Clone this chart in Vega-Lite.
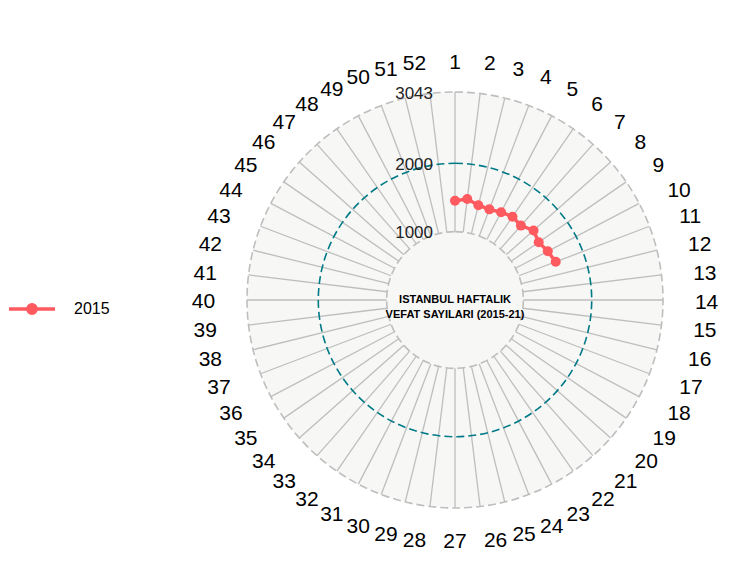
{
  "$schema": "https://vega.github.io/schema/vega-lite/v6.json",
  "width": 416,
  "height": 416,
  "autosize": "none",
  "padding": {"left": 247, "top": 92, "right": 93, "bottom": 80},
  "config": {
    "font": "Liberation Sans",
    "view": {"stroke": null},
    "axis": {"disable": true}
  },
  "datasets": {
    "deaths": [
      {"year": "2015", "week": 1, "deaths": 1453},
      {"year": "2015", "week": 2, "deaths": 1488},
      {"year": "2015", "week": 3, "deaths": 1429},
      {"year": "2015", "week": 4, "deaths": 1418},
      {"year": "2015", "week": 5, "deaths": 1451},
      {"year": "2015", "week": 6, "deaths": 1481},
      {"year": "2015", "week": 7, "deaths": 1454},
      {"year": "2015", "week": 8, "deaths": 1535},
      {"year": "2015", "week": 9, "deaths": 1488},
      {"year": "2015", "week": 10, "deaths": 1533},
      {"year": "2015", "week": 11, "deaths": 1576}
    ],
    "weeks": [
      {"week": 1}, {"week": 2}, {"week": 3}, {"week": 4}, {"week": 5}, {"week": 6}, {"week": 7},
      {"week": 8}, {"week": 9}, {"week": 10}, {"week": 11}, {"week": 12}, {"week": 13}, {"week": 14},
      {"week": 15}, {"week": 16}, {"week": 17}, {"week": 18}, {"week": 19}, {"week": 20}, {"week": 21},
      {"week": 22}, {"week": 23}, {"week": 24}, {"week": 25}, {"week": 26}, {"week": 27}, {"week": 28},
      {"week": 29}, {"week": 30}, {"week": 31}, {"week": 32}, {"week": 33}, {"week": 34}, {"week": 35},
      {"week": 36}, {"week": 37}, {"week": 38}, {"week": 39}, {"week": 40}, {"week": 41}, {"week": 42},
      {"week": 43}, {"week": 44}, {"week": 45}, {"week": 46}, {"week": 47}, {"week": 48}, {"week": 49},
      {"week": 50}, {"week": 51}, {"week": 52}
    ],
    "grid": [
      {"level": 1000, "label": "1000", "kind": "min"},
      {"level": 2000, "label": "2000", "kind": "mid"},
      {"level": 3043, "label": "3043", "kind": "max"}
    ]
  },
  "layer": [
    {
      "data": {"name": "grid"},
      "transform": [{"filter": "datum.kind == 'max'"}],
      "mark": {"type": "arc", "theta": 0, "theta2": 6.2832, "fill": "#D7D6D1", "fillOpacity": 0.2, "strokeWidth": 0},
      "encoding": {
        "radius": {"field": "level", "type": "quantitative", "stack": null, "scale": {"type": "linear", "domain": [0, 3043], "range": [0, 208], "zero": true}}
      }
    },
    {
      "data": {"name": "weeks"},
      "transform": [
        {"calculate": "(datum.week - 1) * 2 * PI / 52", "as": "ang"},
        {"calculate": "1000 * sin(datum.ang)", "as": "x0"},
        {"calculate": "1000 * cos(datum.ang)", "as": "y0"},
        {"calculate": "3043 * sin(datum.ang)", "as": "x1"},
        {"calculate": "3043 * cos(datum.ang)", "as": "y1"}
      ],
      "mark": {"type": "rule", "color": "#BEBEBE", "strokeWidth": 1.3},
      "encoding": {
        "x": {"field": "x0", "type": "quantitative", "scale": {"domain": [-3043, 3043], "nice": false, "zero": false}},
        "y": {"field": "y0", "type": "quantitative", "scale": {"domain": [-3043, 3043], "nice": false, "zero": false}},
        "x2": {"field": "x1"},
        "y2": {"field": "y1"}
      }
    },
    {
      "data": {"name": "grid"},
      "mark": {"type": "arc", "theta": 0, "theta2": 6.2832, "fill": "transparent", "strokeWidth": 1.6, "strokeDash": [8, 4]},
      "encoding": {
        "radius": {"field": "level", "type": "quantitative", "stack": null, "scale": {"type": "linear", "domain": [0, 3043], "range": [0, 208], "zero": true}},
        "stroke": {
          "condition": {"test": "datum.kind == 'mid'", "value": "#007A87"},
          "value": "#BEBEBE"
        }
      }
    },
    {
      "data": {"name": "grid"},
      "mark": {"type": "text", "align": "right", "baseline": "middle", "dx": -22, "dy": 1.5, "fontSize": 17, "color": "#222222"},
      "encoding": {
        "x": {"datum": 0, "type": "quantitative", "scale": {"domain": [-3043, 3043], "nice": false, "zero": false}},
        "y": {"field": "level", "type": "quantitative", "scale": {"domain": [-3043, 3043], "nice": false, "zero": false}},
        "text": {"field": "label"}
      }
    },
    {
      "data": {"name": "deaths"},
      "transform": [
        {"calculate": "(datum.week - 1) * 2 * PI / 52", "as": "ang"},
        {"calculate": "datum.deaths * sin(datum.ang)", "as": "px"},
        {"calculate": "datum.deaths * cos(datum.ang)", "as": "py"}
      ],
      "mark": {"type": "line", "strokeWidth": 3.5},
      "encoding": {
        "x": {"field": "px", "type": "quantitative", "scale": {"domain": [-3043, 3043], "nice": false, "zero": false}},
        "y": {"field": "py", "type": "quantitative", "scale": {"domain": [-3043, 3043], "nice": false, "zero": false}},
        "order": {"field": "week"},
        "color": {
          "field": "year",
          "type": "nominal",
          "scale": {"range": ["#FF5A5F"]},
          "legend": {
            "title": null,
            "orient": "none",
            "legendX": -240,
            "legendY": 192,
            "padding": 0,
            "symbolType": "M-1,0L1,0M0.18,0A0.18,0.18,0,1,1,-0.18,0A0.18,0.18,0,1,1,0.18,0Z",
            "symbolSize": 2116,
            "symbolStrokeWidth": 3.5,
            "symbolFillColor": "#FF5A5F",
            "symbolStrokeColor": "#FF5A5F",
            "symbolOpacity": 1,
            "labelOffset": 17,
            "labelFontSize": 16,
            "labelColor": "#000000",
            "encode": {
              "symbols": {"update": {"fill": {"value": "#FF5A5F"}, "stroke": {"value": "#FF5A5F"}, "strokeWidth": {"value": 3.5}}}
            }
          }
        }
      }
    },
    {
      "data": {"name": "deaths"},
      "transform": [
        {"calculate": "(datum.week - 1) * 2 * PI / 52", "as": "ang"},
        {"calculate": "datum.deaths * sin(datum.ang)", "as": "px"},
        {"calculate": "datum.deaths * cos(datum.ang)", "as": "py"}
      ],
      "mark": {"type": "point", "filled": true, "size": 100, "opacity": 1, "color": "#FF5A5F"},
      "encoding": {
        "x": {"field": "px", "type": "quantitative", "scale": {"domain": [-3043, 3043], "nice": false, "zero": false}},
        "y": {"field": "py", "type": "quantitative", "scale": {"domain": [-3043, 3043], "nice": false, "zero": false}}
      }
    },
    {
      "data": {"name": "weeks"},
      "transform": [{"filter": "datum.week >= 2 && datum.week <= 26"}],
      "mark": {"type": "text", "align": "left", "baseline": "middle", "dy": 2.5, "fontSize": 21, "color": "#000000"},
      "encoding": {
        "theta": {"field": "week", "type": "quantitative", "scale": {"type": "linear", "domain": [1, 53], "range": [0, 6.2832], "zero": false}},
        "radius": {"datum": 3510, "type": "quantitative", "scale": {"type": "linear", "domain": [0, 3043], "range": [0, 208], "zero": true}},
        "text": {"field": "week"}
      }
    },
    {
      "data": {"name": "weeks"},
      "transform": [{"filter": "datum.week >= 28"}],
      "mark": {"type": "text", "align": "right", "baseline": "middle", "dy": 2.5, "fontSize": 21, "color": "#000000"},
      "encoding": {
        "theta": {"field": "week", "type": "quantitative", "scale": {"type": "linear", "domain": [1, 53], "range": [0, 6.2832], "zero": false}},
        "radius": {"datum": 3510, "type": "quantitative", "scale": {"type": "linear", "domain": [0, 3043], "range": [0, 208], "zero": true}},
        "text": {"field": "week"}
      }
    },
    {
      "data": {"name": "weeks"},
      "transform": [{"filter": "datum.week == 1 || datum.week == 27"}],
      "mark": {"type": "text", "align": "center", "baseline": "middle", "dy": 2.5, "fontSize": 21, "color": "#000000"},
      "encoding": {
        "theta": {"field": "week", "type": "quantitative", "scale": {"type": "linear", "domain": [1, 53], "range": [0, 6.2832], "zero": false}},
        "radius": {"datum": 3510, "type": "quantitative", "scale": {"type": "linear", "domain": [0, 3043], "range": [0, 208], "zero": true}},
        "text": {"field": "week"}
      }
    },
    {
      "data": {"values": [{"title": ["ISTANBUL HAFTALIK", "VEFAT SAYILARI (2015-21)"]}]},
      "mark": {"type": "text", "align": "center", "baseline": "middle", "fontSize": 11, "fontWeight": "bold", "lineHeight": 15, "color": "#000000"},
      "encoding": {
        "x": {"datum": 0, "type": "quantitative", "scale": {"domain": [-3043, 3043], "nice": false, "zero": false}},
        "y": {"datum": 0, "type": "quantitative", "scale": {"domain": [-3043, 3043], "nice": false, "zero": false}},
        "text": {"field": "title"}
      }
    }
  ]
}
